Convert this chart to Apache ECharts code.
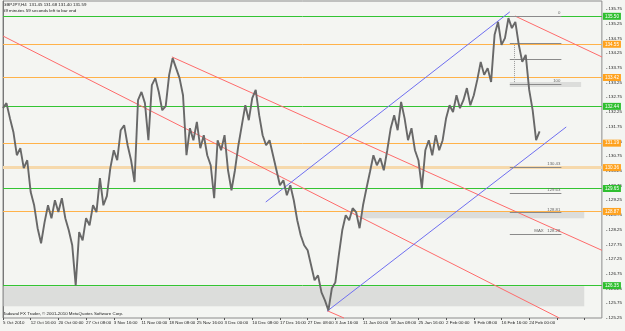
<!DOCTYPE html>
<html>
<head>
<meta charset="utf-8">
<script src="https://cdn.jsdelivr.net/npm/echarts@6/dist/echarts.min.js"></script>
<style>
html,body{margin:0;padding:0;background:#f4f5f2;}
#chart{width:625px;height:331px;}
</style>
</head>
<body>
<div id="chart"></div>
<script>
// GBPJPY H4, one value every 4 bars
var priceData = [
	132.38,132.55,132.04,131.57,130.78,131.02,130.34,130.61,129.53,129.08,
	128.30,127.79,128.50,129.08,128.64,129.25,128.85,129.32,128.64,128.23,
	127.72,126.36,128.17,127.89,128.64,128.40,129.08,128.85,130.00,129.08,
	129.39,130.34,130.95,130.61,131.63,131.80,131.12,130.61,129.87,132.65,
	132.93,132.55,131.29,133.16,133.40,132.93,132.31,132.45,133.51,134.08,
	133.74,133.40,132.82,130.78,131.70,131.29,131.91,131.02,131.46,130.78,
	130.44,129.32,131.29,130.95,131.46,130.27,129.59,130.27,131.12,131.80,
	132.48,131.97,132.72,133.00,132.14,131.46,131.12,131.29,130.78,130.27,
	129.76,129.93,129.42,129.76,129.25,128.57,128.06,127.72,127.55,127.04,
	126.53,126.70,126.12,125.85,125.51,126.26,126.46,127.38,128.23,128.74,
	128.57,128.98,128.85,128.30,129.08,129.66,130.21,130.78,130.44,130.68,
	130.27,130.95,131.70,132.14,131.63,132.59,132.04,131.29,131.70,130.95,
	130.61,129.66,130.95,131.29,130.78,131.46,130.95,131.29,132.04,132.48,
	132.25,132.82,132.38,132.65,133.06,132.48,132.82,133.34,133.95,133.51,
	133.74,133.27,134.87,135.31,134.53,134.76,135.44,135.10,135.31,134.53,
	133.95,134.19,133.00,132.31,131.29,131.59
];
var timeLabels = ['5 Oct 2010','12 Oct 16:00','20 Oct 00:00','27 Oct 08:00','3 Nov 16:00','11 Nov 00:00',
	'18 Nov 08:00','25 Nov 16:00','3 Dec 00:00','10 Dec 08:00','17 Dec 16:00','27 Dec 08:00','3 Jan 16:00',
	'11 Jan 00:00','18 Jan 08:00','25 Jan 16:00','2 Feb 00:00','9 Feb 08:00','16 Feb 16:00','24 Feb 00:00'];
var xMax = 173;

var greenLevels = [135.50, 132.44, 129.65, 126.35];
var orangeLevels = [134.55, 133.42, 131.19, 128.87];
var paleLevels = [130.36];
var lastPrice = 131.59;

// trendlines [[x1,p1],[x2,p2]]
var redLines = [
	[[0,134.83],[160.7,125.25]],
	[[48.8,134.12],[173,127.55]],
	[[147.9,135.51],[173,134.12]],
	[[93.6,125.50],[98.5,125.25]]
];
var blueLines = [
	[[75.9,129.19],[146.4,135.65]],
	[[93.6,125.48],[162.7,131.74]]
];
// short levels on the right
var fiboStart = 146.4, fiboEnd = 161.3;
var fiboLevels = [135.50,134.59,134.05,133.20,130.38,129.50,128.84,128.10];
var fiboTexts = ['0','','','100','130.43','129.63','128.81','MAX   128.28'];
// grey zones [x1,x2,p1,p2]
var zones = [
	[0,167.9,126.33,125.65],
	[103.6,167.9,128.88,128.64],
	[146.4,167,133.27,133.10]
];

var FONT = 'Liberation Sans';
var chart = echarts.init(document.getElementById('chart'));

var lines = [];
function boxLabel(txt, bg){
	return {show:true,position:'end',formatter:txt,backgroundColor:bg,color:'#fff',
		fontSize:4.6,fontFamily:FONT,padding:[1,2,1,2],distance:1};
}
for(var i=0;i<greenLevels.length;i++){
	lines.push({yAxis:greenLevels[i],lineStyle:{color:'#33c433',width:1,type:'solid'},
		label:boxLabel(greenLevels[i].toFixed(2),'#2fbf2f')});
}
for(var i=0;i<orangeLevels.length;i++){
	lines.push({yAxis:orangeLevels[i],lineStyle:{color:'#ffb24a',width:1,type:'solid'},
		label:boxLabel(orangeLevels[i].toFixed(2),'#ffa21e')});
}
for(var i=0;i<paleLevels.length;i++){
	lines.push({yAxis:paleLevels[i],lineStyle:{color:'#f6d9ac',width:3,type:'solid'},
		label:boxLabel(paleLevels[i].toFixed(2),'#ffa21e')});
}
lines.push({yAxis:lastPrice,lineStyle:{opacity:0},label:boxLabel(lastPrice.toFixed(2),'#000')});
for(var i=0;i<redLines.length;i++){
	lines.push([{coord:redLines[i][0],lineStyle:{color:'#ff6b6b',width:1,type:'solid'},label:{show:false}},
		{coord:redLines[i][1]}]);
}
for(var i=0;i<blueLines.length;i++){
	lines.push([{coord:blueLines[i][0],lineStyle:{color:'#6f6ff0',width:1,type:'solid'},label:{show:false}},
		{coord:blueLines[i][1]}]);
}
for(var i=0;i<fiboLevels.length;i++){
	lines.push([{coord:[fiboStart,fiboLevels[i]],lineStyle:{color:'#8a8a8a',width:1,type:'solid'},
		label:{show:fiboTexts[i]!=='',position:'insideEndTop',formatter:fiboTexts[i],color:'#666',
			fontSize:4.3,fontFamily:FONT,distance:1}},
		{coord:[fiboEnd,fiboLevels[i]]}]);
}
// dotted vertical of the retracement
lines.push([{coord:[147.6,134.59],lineStyle:{color:'#999',width:1,type:'dotted'},label:{show:false}},
	{coord:[147.6,133.23]}]);

var areas = [];
for(var i=0;i<zones.length;i++){
	areas.push([{xAxis:zones[i][0],yAxis:zones[i][2]},{xAxis:zones[i][1],yAxis:zones[i][3]}]);
}

var seriesData = [];
for(var i=0;i<priceData.length;i++){
	seriesData.push([i,priceData[i]]);
}

option = {
	backgroundColor:'#f4f5f2',
	animation:false,
	textStyle:{fontFamily:FONT},
	grid:{left:2,right:17,top:1,bottom:13,show:true,borderColor:'#8c8c8c',borderWidth:1},
	xAxis:{
		type:'value',min:0,max:xMax,interval:8,
		axisLine:{show:false},
		splitLine:{show:false},
		axisTick:{show:true,length:2,lineStyle:{color:'#555'}},
		axisLabel:{
			fontSize:4.4,fontFamily:FONT,color:'#222',align:'left',margin:3,
			showMinLabel:true,showMaxLabel:false,hideOverlap:false,
			formatter:function(v){
				var k = v/8;
				return (k%1===0 && timeLabels[k]) ? timeLabels[k] : '';
			}
		}
	},
	yAxis:{
		type:'value',position:'right',min:125.25,max:136.02,interval:0.25,
		axisLine:{show:true,lineStyle:{color:'#777'}},
		axisTick:{show:false},
		splitLine:{show:false},
		axisLabel:{
			fontSize:4.4,fontFamily:FONT,color:'#222',margin:4,showMaxLabel:false,
			formatter:function(v){
				var r = Math.round(v*100)%100;
				return (r===25||r===75) ? '- '+v.toFixed(2) : '';
			}
		}
	},
	series:[{
		type:'line',
		data:seriesData,
		showSymbol:false,
		lineStyle:{color:'#686868',width:1.9},
		z:5,
		markLine:{silent:true,symbol:'none',data:lines,z:3},
		markArea:{silent:true,itemStyle:{color:'rgba(200,200,200,0.55)'},data:areas}
	}],
	graphic:[
		{type:'text',left:3,top:3,style:{text:'GBPJPY,H4  131.45 131.68 131.40 131.59',fontSize:4.4,fill:'#222',fontFamily:FONT}},
		{type:'text',left:3,top:9,style:{text:'59 minutes 59 seconds left to bar end',fontSize:4.4,fill:'#222',fontFamily:FONT}},
		{type:'text',left:3,top:312,style:{text:'Tadawul FX Trader, © 2001-2010 MetaQuotes Software Corp.',fontSize:4.4,fill:'#222',fontFamily:FONT}}
	]
};
chart.setOption(option);
</script>
</body>
</html>
